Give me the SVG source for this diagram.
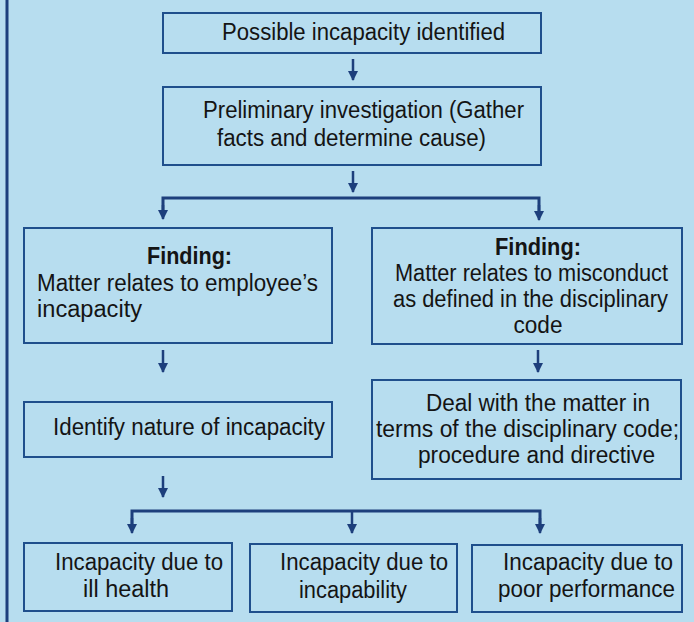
<svg xmlns="http://www.w3.org/2000/svg" width="694" height="622" viewBox="0 0 694 622">
<style>
.box{fill:none;stroke:#1f4f8c;stroke-width:2}
.t{font-family:"Liberation Sans",Arial,sans-serif;font-size:23px;fill:#141414}
.b{font-weight:bold}
.c{text-anchor:middle}
.ln{fill:none;stroke:#1d3f7c;stroke-width:3}
.ar{fill:none;stroke:#1d3f7c;stroke-width:2.5;marker-end:url(#ah)}
</style>
<defs>
<marker id="ah" markerWidth="11" markerHeight="10" refX="9" refY="5" orient="auto" markerUnits="userSpaceOnUse">
<path d="M0,0 L10,5 L0,10 Z" fill="#1d3f7c"/>
</marker>
</defs>
<rect width="694" height="622" fill="#b7ddef"/>
<line x1="7" y1="0" x2="7" y2="622" stroke="#1d3f7c" stroke-width="3"/>

<g id="connectors">
<line class="ar" x1="353" y1="59" x2="353" y2="80"/>
<line class="ar" x1="353" y1="171" x2="353" y2="192"/>
<path class="ln" d="M163,216 V198 H539 V216"/>
<line class="ar" x1="163" y1="205" x2="163" y2="219"/>
<line class="ar" x1="539" y1="205" x2="539" y2="220"/>
<line class="ar" x1="163" y1="350" x2="163" y2="372"/>
<line class="ar" x1="538" y1="350" x2="538" y2="372"/>
<line class="ar" x1="163" y1="476" x2="163" y2="497"/>
<path class="ln" d="M132,530 V511 H540 V530"/>
<line class="ar" x1="132" y1="518" x2="132" y2="533"/>
<line class="ar" x1="352" y1="511" x2="352" y2="533"/>
<line class="ar" x1="540" y1="518" x2="540" y2="533"/>
</g>

<g id="n1">
<rect class="box" x="163" y="13" width="378" height="40"/>
<text class="t" x="222" y="40" textLength="283" lengthAdjust="spacingAndGlyphs">Possible incapacity identified</text>
</g>
<g id="n2">
<rect class="box" x="163" y="87" width="378" height="78"/>
<text class="t" x="203" y="118" textLength="321" lengthAdjust="spacingAndGlyphs">Preliminary investigation (Gather</text>
<text class="t" x="217" y="146" textLength="269" lengthAdjust="spacingAndGlyphs">facts and determine cause)</text>
</g>
<g id="n3">
<rect class="box" x="24" y="228" width="308" height="115"/>
<text class="t b" x="147" y="264" textLength="85" lengthAdjust="spacingAndGlyphs">Finding:</text>
<text class="t" x="37" y="291" textLength="281" lengthAdjust="spacingAndGlyphs">Matter relates to employee’s</text>
<text class="t" x="37" y="317" textLength="105" lengthAdjust="spacingAndGlyphs">incapacity</text>
</g>
<g id="n4">
<rect class="box" x="372" y="228" width="310" height="116"/>
<text class="t b" x="495" y="255" textLength="86" lengthAdjust="spacingAndGlyphs">Finding:</text>
<text class="t" x="395" y="281" textLength="273" lengthAdjust="spacingAndGlyphs">Matter relates to misconduct</text>
<text class="t" x="393" y="307" textLength="275" lengthAdjust="spacingAndGlyphs">as defined in the disciplinary</text>
<text class="t c" x="538" y="333" textLength="49" lengthAdjust="spacingAndGlyphs">code</text>
</g>
<g id="n5">
<rect class="box" x="24" y="402" width="308" height="55"/>
<text class="t" x="53" y="435" textLength="272" lengthAdjust="spacingAndGlyphs">Identify nature of incapacity</text>
</g>
<g id="n6">
<rect class="box" x="372" y="380" width="309" height="99"/>
<text class="t" x="426" y="411" textLength="224" lengthAdjust="spacingAndGlyphs">Deal with the matter in</text>
<text class="t" x="376" y="437" textLength="303" lengthAdjust="spacingAndGlyphs">terms of the disciplinary code;</text>
<text class="t" x="418" y="463" textLength="237" lengthAdjust="spacingAndGlyphs">procedure and directive</text>
</g>
<g id="n7">
<rect class="box" x="24" y="543" width="208" height="68"/>
<text class="t" x="55" y="570" textLength="168" lengthAdjust="spacingAndGlyphs">Incapacity due to</text>
<text class="t" x="83" y="597" textLength="86" lengthAdjust="spacingAndGlyphs">ill health</text>
</g>
<g id="n8">
<rect class="box" x="250" y="544" width="207" height="68"/>
<text class="t" x="280" y="570" textLength="168" lengthAdjust="spacingAndGlyphs">Incapacity due to</text>
<text class="t" x="299" y="598" textLength="108" lengthAdjust="spacingAndGlyphs">incapability</text>
</g>
<g id="n9">
<rect class="box" x="472" y="545" width="210" height="67"/>
<text class="t" x="503" y="570" textLength="170" lengthAdjust="spacingAndGlyphs">Incapacity due to</text>
<text class="t" x="498" y="597" textLength="177" lengthAdjust="spacingAndGlyphs">poor performance</text>
</g>
</svg>
